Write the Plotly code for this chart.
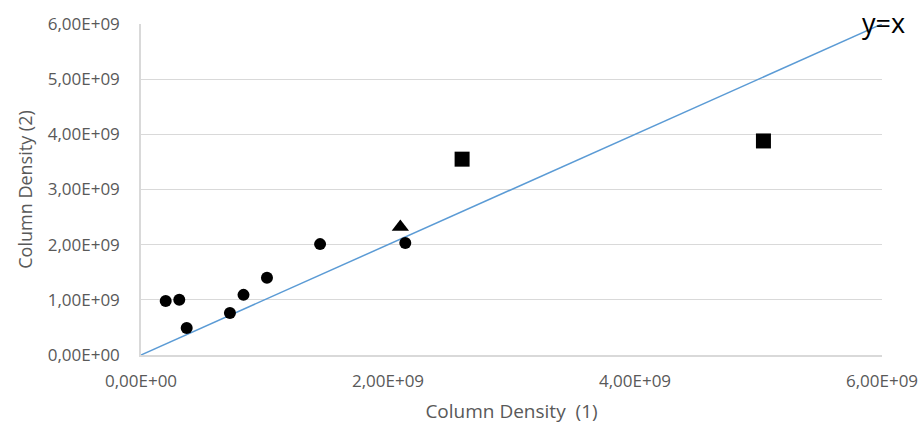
import plotly.graph_objects as go

# Column density comparison: measurement (1) vs measurement (2)
circle_x = [0.20e9, 0.31e9, 0.37e9, 0.72e9, 0.83e9, 1.02e9, 1.45e9, 2.14e9]
circle_y = [0.98e9, 1.00e9, 0.49e9, 0.76e9, 1.09e9, 1.40e9, 2.01e9, 2.03e9]
triangle_x = [2.10e9]
triangle_y = [2.32e9]
square_x = [2.60e9, 5.04e9]
square_y = [3.55e9, 3.88e9]
identity_x = [0, 6e9]
identity_y = [0, 6e9]

tick_vals_x = [0, 2e9, 4e9, 6e9]
tick_text_x = ["0,00E+00", "2,00E+09", "4,00E+09", "6,00E+09"]
tick_vals_y = [0, 1e9, 2e9, 3e9, 4e9, 5e9, 6e9]
tick_text_y = ["0,00E+00", "1,00E+09", "2,00E+09", "3,00E+09",
               "4,00E+09", "5,00E+09", "6,00E+09"]

fig = go.Figure()
fig.add_trace(go.Scatter(x=identity_x, y=identity_y, mode="lines",
                         line=dict(color="#5B9BD5", width=1.5), hoverinfo="skip"))
fig.add_trace(go.Scatter(x=circle_x, y=circle_y, mode="markers",
                         marker=dict(symbol="circle", size=12, color="black")))
fig.add_trace(go.Scatter(x=triangle_x, y=triangle_y, mode="markers",
                         marker=dict(symbol="triangle-up", size=15, color="black")))
fig.add_trace(go.Scatter(x=square_x, y=square_y, mode="markers",
                         marker=dict(symbol="square", size=15, color="black")))

axis_font = dict(family="Open Sans, Segoe UI, sans-serif", size=17, color="#595959")
xtitle_font = dict(family="Open Sans, Segoe UI, sans-serif", size=19, color="#595959")
ytitle_font = dict(family="Open Sans, Segoe UI, sans-serif", size=18, color="#595959")

fig.update_layout(
    width=923, height=424,
    margin=dict(l=141, r=41, t=24, b=69, autoexpand=False),
    paper_bgcolor="white", plot_bgcolor="white",
    showlegend=False,
    xaxis=dict(range=[0, 6e9], tickvals=tick_vals_x, ticktext=tick_text_x,
               automargin=False,
               showgrid=False, zeroline=False, showline=True,
               linecolor="#D9D9D9", linewidth=1.5,
               ticks="outside", ticklen=10, tickcolor="rgba(0,0,0,0)",
               tickfont=axis_font,
               title=dict(text="Column Density  (1)", font=xtitle_font, standoff=14)),
    yaxis=dict(range=[0, 6e9], tickvals=tick_vals_y, ticktext=tick_text_y,
               automargin=False,
               showgrid=True, gridcolor="#D9D9D9", gridwidth=1.2,
               zeroline=False, showline=True,
               linecolor="#D9D9D9", linewidth=1.5,
               ticks="outside", ticklen=16, tickcolor="rgba(0,0,0,0)",
               tickfont=axis_font,
               title=dict(text="Column Density (2)", font=ytitle_font, standoff=10)),
    annotations=[dict(x=6e9, y=6e9, xref="x", yref="y", text="y=x",
                      showarrow=False, xanchor="center", yanchor="middle",
                      xshift=1, yshift=2,
                      font=dict(family="Open Sans, sans-serif", size=27, color="black"))],
)

fig.write_html("out.html")
